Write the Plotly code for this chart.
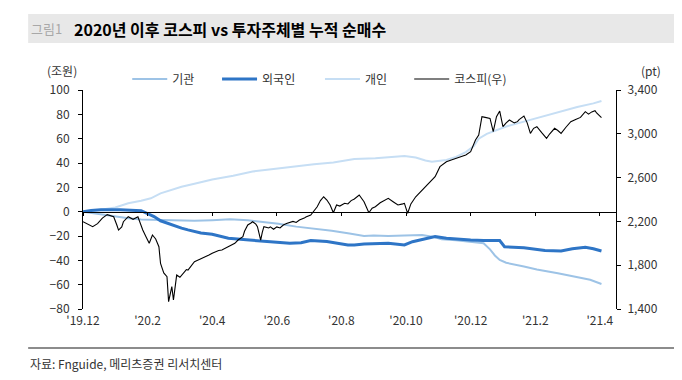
import plotly.graph_objects as go

# ---- data ----
tick_days = [0, 40, 80, 120, 160, 200, 240, 280, 320]
tick_labels = ["'19.12", "'20.2", "'20.4", "'20.6", "'20.8", "'20.10", "'20.12", "'21.2", "'21.4"]

kospi_day = [0, 3, 6, 9, 12, 15, 17, 19, 21, 22, 24, 25, 28, 30, 31, 34, 35, 37, 39, 41,
             43, 45, 47, 48, 50, 52, 53, 54, 55, 56, 58, 60, 62, 64, 65, 67, 69, 71, 74, 76,
             78, 80, 82, 84, 86, 88, 90, 93, 94, 96, 99, 100, 102, 104, 105, 107, 108, 109, 110, 111,
             112, 115, 116, 118, 120, 122, 124, 126, 128, 130, 132, 134, 137, 138, 141, 143, 145, 147, 149, 151,
             153, 155, 156, 157, 159, 162, 164, 166, 168, 171, 174, 176, 177, 179, 181, 184, 187, 189, 192, 195,
             198, 199, 201, 203, 206, 209, 212, 215, 218, 221, 225, 228, 231, 234, 237, 240, 242, 243, 245, 247,
             249, 252, 254, 256, 258, 260, 262, 264, 267, 269, 270, 273, 275, 277, 279, 281, 284, 287, 289, 292,
             294, 296, 299, 302, 305, 308, 311, 313, 315, 317, 318, 321]
kospi = [2197, 2175, 2152, 2180, 2230, 2262, 2255, 2243, 2165, 2121, 2150, 2197, 2243, 2230, 2219, 2243, 2200, 2121, 2060, 2000,
         2076, 2040, 1969, 1817, 1730, 1695, 1467, 1530, 1604, 1482, 1710, 1690, 1726, 1760, 1756, 1800, 1832, 1845, 1863, 1880,
         1893, 1910, 1923, 1935, 1939, 1955, 1969, 1990, 2000, 2030, 2060, 2110, 2167, 2185, 2197, 2175, 2152, 2090, 2030, 2100,
         2152, 2140, 2150, 2128, 2150, 2140, 2167, 2180, 2188, 2200, 2190, 2213, 2230, 2240, 2258, 2300, 2334, 2390, 2425, 2395,
         2350, 2279, 2320, 2350, 2340, 2365, 2359, 2390, 2405, 2441, 2380, 2300, 2279, 2320, 2334, 2370, 2395, 2411, 2380, 2350,
         2360, 2365, 2274, 2360, 2425, 2470, 2517, 2560, 2608, 2700, 2745, 2760, 2776, 2790, 2806, 2836, 2900, 2943, 2989, 3156,
         3150, 3141, 3019, 3156, 3208, 3065, 3100, 3126, 3100, 3111, 3130, 3162, 3100, 3004, 3050, 3065, 3010, 2959, 3000, 3050,
         3030, 3004, 3060, 3111, 3130, 3150, 3202, 3180, 3200, 3211, 3190, 3147]

inst_day = [0, 5, 11, 20, 28, 36, 48, 60, 69, 80, 91, 102, 111, 121, 132, 143, 154, 165, 174, 180,
            189, 199, 210, 218, 222, 231, 240, 248, 252, 255, 258, 262, 273, 281, 294, 306, 314, 321]
inst = [0, -1, -2, -4, -5.5, -6.5, -6.8, -7.2, -7.4, -7, -6.3, -7, -8.2, -10, -12.3, -14, -15.6, -18, -20, -19.5,
        -20, -19.5, -19.2, -21, -22.7, -23.5, -25, -26, -31, -36, -39.7, -42, -45, -47.5, -50.6, -54, -56, -59.5]

frgn_day = [0, 5, 11, 23, 36, 40, 44, 48, 55, 61, 65, 73, 80, 90, 103, 111, 121, 128, 135, 141,
            151, 157, 164, 168, 174, 189, 199, 204, 211, 218, 225, 231, 240, 248, 258, 261, 273, 286, 296, 303,
            311, 316, 321]
frgn = [0, 1, 1.5, 1.5, 0.8, -1.5, -4, -7.5, -11, -13.5, -15, -17.5, -18.6, -21.9, -23.3, -24, -25, -26, -25.5, -23.8,
        -24.6, -26, -27.4, -27.4, -26.6, -26, -27.4, -24.7, -22.5, -20.5, -21.9, -22.7, -23.3, -23.8, -23.8, -28.8, -29.6, -32, -32.3, -30.5,
        -29.3, -30.5, -32.3]

indiv_day = [0, 11, 20, 28, 36, 42, 48, 55, 61, 69, 80, 93, 105, 118, 130, 143, 155, 168, 181, 189,
             199, 206, 212, 216, 225, 231, 237, 242, 245, 250, 256, 262, 273, 281, 294, 306, 316, 321]
indiv = [0, 1.5, 3.5, 6.9, 9, 11, 15, 18, 20.5, 23, 26.5, 29.5, 33, 35, 37, 39, 40.5, 43.3, 44, 45,
         45.8, 44.5, 42, 41, 42.5, 45, 49, 54, 60, 64, 67, 70, 74, 77, 82, 86, 89, 91]

FONT = "Noto Sans CJK KR"
TXT = "#333333"

fig = go.Figure()
fig.add_trace(go.Scatter(x=indiv_day, y=indiv, name="개인", mode="lines",
                         line=dict(color="#C6DEF4", width=2), legend="legend3"))
fig.add_trace(go.Scatter(x=inst_day, y=inst, name="기관", mode="lines",
                         line=dict(color="#9DC3E6", width=2), legend="legend"))
fig.add_trace(go.Scatter(x=frgn_day, y=frgn, name="외국인", mode="lines",
                         line=dict(color="#2E75C6", width=3), legend="legend2"))
fig.add_trace(go.Scatter(x=kospi_day, y=kospi, name="코스피(우)", mode="lines", yaxis="y2",
                         line=dict(color="#000000", width=1.1), legend="legend4"))
# carrier trace for the zero-line axis
fig.add_trace(go.Scatter(x=[0], y=[None], xaxis="x2", showlegend=False, hoverinfo="skip"))

leg_common = dict(orientation="h", yanchor="middle", xanchor="left", y=1.05,
                  bgcolor="rgba(0,0,0,0)", font=dict(family=FONT, size=12, color=TXT),
                  itemwidth=35)

fig.update_layout(
    width=674, height=372,
    margin=dict(l=75, r=66, t=82, b=71, autoexpand=False),
    paper_bgcolor="white", plot_bgcolor="white",
    font=dict(family=FONT, size=12, color=TXT),
    legend=dict(x=0.083, **leg_common),
    legend2=dict(x=0.2515, **leg_common),
    legend3=dict(x=0.4446, **leg_common),
    legend4=dict(x=0.612, **leg_common),
    xaxis=dict(range=[0, 330], tickmode="array", tickvals=tick_days, ticktext=tick_labels,
               showline=False, ticks="", showgrid=False, zeroline=False,
               tickfont=dict(family=FONT, size=12, color=TXT), ticklabelstandoff=3),
    xaxis2=dict(range=[0, 330], overlaying="x", anchor="free", position=80 / 180,
                tickmode="array", tickvals=tick_days, showticklabels=False,
                showline=True, linecolor="#000000", linewidth=1,
                ticks="outside", ticklen=3, tickcolor="#000000", showgrid=False, zeroline=False),
    yaxis=dict(range=[-80, 100], dtick=20, tick0=0, showline=True, linecolor="#000000",
               ticks="outside", ticklen=4, tickcolor="#000000", showgrid=False, zeroline=False,
               tickfont=dict(family=FONT, size=12, color=TXT), ticklabelstandoff=6),
    yaxis2=dict(range=[1400, 3400], dtick=400, tick0=1400, overlaying="y", side="right",
                tickformat=",d", showline=True, linecolor="#000000",
                ticks="outside", ticklen=4, tickcolor="#000000", showgrid=False, zeroline=False,
                tickfont=dict(family=FONT, size=12, color=TXT), ticklabelstandoff=4),
    shapes=[
        dict(type="rect", xref="paper", yref="paper", x0=-0.1029, x1=1.1124, y0=1.2146, y1=1.347,
             fillcolor="#E8E8E8", line=dict(width=0), layer="below"),
        dict(type="line", xref="paper", yref="paper", x0=-0.1029, x1=1.1124, y0=-0.178, y1=-0.178,
             line=dict(color="#666666", width=1.5)),
    ],
    annotations=[
        dict(text="그림1", xref="paper", yref="paper", x=-0.101, y=1.2808, xanchor="left", yanchor="middle",
             showarrow=False, font=dict(family=FONT, size=13, color="#A8A8A8")),
        dict(text="<b>2020년 이후 코스피 vs 투자주체별 누적 순매수</b>", xref="paper", yref="paper",
             x=-0.0200, y=1.2808, xanchor="left", yanchor="middle",
             showarrow=False, font=dict(family=FONT, size=16, color="#000000")),
        dict(text="(조원)", xref="paper", yref="paper", x=-0.04, y=1.0913, xanchor="center", yanchor="middle",
             showarrow=False, font=dict(family=FONT, size=12, color=TXT)),
        dict(text="(pt)", xref="paper", yref="paper", x=1.0648, y=1.0913, xanchor="center", yanchor="middle",
             showarrow=False, font=dict(family=FONT, size=12, color=TXT)),
        dict(text="자료: Fnguide, 메리츠증권 리서치센터", xref="paper", yref="paper", x=-0.1029, y=-0.2466,
             xanchor="left", yanchor="middle", showarrow=False, font=dict(family=FONT, size=12, color=TXT)),
    ],
)

fig.write_html("out.html")
